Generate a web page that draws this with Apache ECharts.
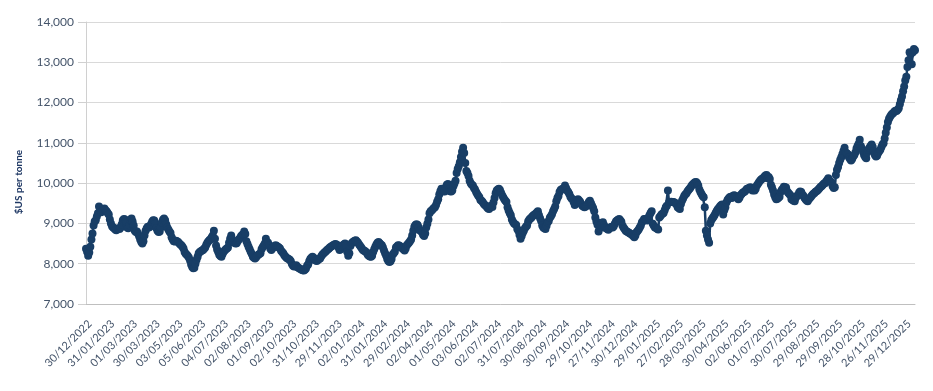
<!DOCTYPE html>
<html>
<head>
<meta charset="utf-8">
<script src="https://cdn.jsdelivr.net/npm/echarts@6/dist/echarts.min.js"></script>
<style>
html,body{margin:0;padding:0;background:#fff;}
#chart{width:933px;height:391px;}
</style>
</head>
<body>
<div id="chart"></div>
<script>
// LME trading-day closes, $US per tonne, 30/12/2022 onwards
const pricesA = [
 8370, 8300, 8200, 8280, 8420, 8600, 8750, 8950, 9050, 9080, 9170, 9250, 9420, 9320, 9280, 9300, 9340, 9370, 9330, 9300, 9260,
 9220, 9100, 9000, 8930, 8900, 8880, 8850, 8830, 8860, 8880, 8860, 8900, 8980, 9080, 9110, 9100, 9000, 8900, 8880, 8950, 9080,
 9120, 9050, 8950, 8820, 8790, 8800, 8750, 8680, 8600, 8540, 8500, 8560, 8700, 8820, 8880, 8920, 8900, 8920, 8980, 9040, 9080,
 9070, 9000, 8880, 8820, 8790, 8800, 8900, 9020, 9090, 9120, 9080, 8980, 8900, 8850, 8800, 8760, 8660, 8600, 8560, 8550, 8570,
 8560, 8540, 8510, 8480, 8460, 8420, 8380, 8290, 8250, 8220, 8190, 8150, 8080, 7980, 7920, 7890, 7900, 8000, 8100, 8170, 8260,
 8290, 8310, 8330, 8340, 8370, 8400, 8470, 8520, 8560, 8590, 8610, 8660, 8700, 8820, 8620, 8450, 8350, 8290, 8220, 8190, 8170
];
const pricesB = [
 8240, 8300, 8330, 8360, 8380, 8400, 8520, 8620, 8700, 8600, 8540, 8520, 8500, 8510, 8560, 8600, 8630, 8680, 8710, 8730, 8800,
 8740, 8560, 8490, 8420, 8360, 8300, 8240, 8170, 8150, 8130, 8160, 8200, 8220, 8240, 8260, 8360, 8410, 8450, 8500, 8620, 8540,
 8520, 8450, 8380, 8340, 8380, 8420, 8440, 8460, 8440, 8420, 8400, 8380, 8320, 8290, 8260, 8210, 8180, 8150, 8130, 8120, 8100,
 8060, 7990, 7950, 7930, 7940, 7960, 7920, 7900, 7880, 7870, 7850, 7840, 7830, 7850, 7880, 7950, 7980, 8060, 8120, 8150, 8170,
 8150, 8120, 8080, 8070, 8090, 8120, 8130, 8180, 8220, 8250, 8280, 8300, 8330, 8350, 8370, 8400, 8420, 8440, 8460, 8470, 8490,
 8480, 8460, 8400, 8340, 8360, 8420, 8460, 8480, 8500, 8460, 8300, 8200, 8260, 8440, 8500, 8530, 8550, 8570, 8580, 8550, 8520
];
const pricesC = [
 8480, 8440, 8400, 8360, 8330, 8320, 8300, 8280, 8220, 8200, 8180, 8170, 8200, 8290, 8360, 8420, 8480, 8520, 8540, 8510, 8480,
 8460, 8400, 8330, 8260, 8200, 8120, 8070, 8040, 8060, 8120, 8230, 8260, 8300, 8400, 8430, 8460, 8450, 8430, 8410, 8380, 8360,
 8330, 8380, 8460, 8490, 8520, 8560, 8600, 8700, 8820, 8920, 8960, 8980, 8960, 8900, 8830, 8810, 8780, 8720, 8690, 8750, 8900,
 8990, 9100, 9250, 9300, 9320, 9350, 9380, 9400, 9460, 9540, 9600, 9720, 9800, 9860, 9830, 9800, 9790, 9900, 9960, 9980, 9850,
 9800, 9790, 9820, 9920, 9990, 10060, 10250, 10350, 10420, 10520, 10650, 10780, 10880, 10750, 10500, 10300, 10250, 10180, 10060, 10000, 9960,
 9940, 9880, 9840, 9780, 9730, 9690, 9650, 9580, 9560, 9530, 9490, 9460, 9440, 9400, 9370, 9360, 9420, 9440, 9410, 9520, 9630
];
const pricesD = [
 9750, 9820, 9840, 9860, 9830, 9760, 9700, 9650, 9600, 9560, 9530, 9400, 9320, 9260, 9200, 9100, 9040, 9000, 8980, 8960, 8860,
 8820, 8720, 8620, 8690, 8760, 8820, 8880, 8920, 8950, 9050, 9090, 9120, 9140, 9180, 9200, 9220, 9240, 9270, 9300, 9200, 9130,
 9060, 8950, 8900, 8880, 8860, 8940, 9030, 9060, 9140, 9180, 9230, 9300, 9360, 9420, 9550, 9630, 9680, 9780, 9830, 9850, 9860,
 9870, 9940, 9880, 9820, 9780, 9730, 9660, 9620, 9600, 9530, 9460, 9540, 9580, 9600, 9570, 9540, 9480, 9440, 9420, 9400, 9420,
 9440, 9480, 9530, 9560, 9500, 9440, 9380, 9300, 9150, 9050, 8970, 8800, 8880, 8980, 9010, 9030, 8960, 8900, 8880, 8860, 8840,
 8880, 8900, 8920, 8900, 8930, 8990, 9050, 9070, 9090, 9110, 9080, 9040, 8950, 8900, 8860, 8820, 8800, 8790, 8770, 8750, 8740
];
const pricesE = [
 8710, 8690, 8660, 8700, 8780, 8810, 8850, 8900, 8950, 9030, 9060, 9110, 9110, 9090, 9070, 9150, 9200, 9260, 9300, 8990, 8940,
 8900, 8890, 8870, 8850, 9150, 9180, 9220, 9240, 9260, 9330, 9400, 9440, 9820, 9520, 9530, 9540, 9530, 9530, 9520, 9500, 9470,
 9400, 9380, 9360, 9480, 9560, 9620, 9680, 9720, 9740, 9790, 9830, 9860, 9900, 9940, 9970, 10000, 10020, 10030, 10000, 9940, 9840,
 9780, 9730, 9680, 9650, 9400, 8820, 8700, 8600, 8520, 9000, 9080, 9120, 9160, 9200, 9260, 9310, 9350, 9380, 9420, 9450, 9470,
 9220, 9330, 9400, 9520, 9580, 9620, 9650, 9660, 9630, 9680, 9700, 9690, 9660, 9640, 9600, 9640, 9700, 9730, 9760, 9780, 9790,
 9830, 9860, 9870, 9880, 9900, 9860, 9820, 9840, 9820, 9860, 9940, 9980, 10020, 10060, 10090, 10110, 10130, 10160, 10190, 10200, 10120
];
const pricesF = [
 10150, 10100, 9960, 9900, 9820, 9720, 9650, 9600, 9610, 9640, 9660, 9780, 9830, 9860, 9910, 9900, 9890, 9800, 9760, 9730, 9700,
 9600, 9580, 9560, 9550, 9640, 9680, 9700, 9760, 9790, 9780, 9720, 9690, 9640, 9600, 9570, 9550, 9600, 9630, 9660, 9700, 9730,
 9750, 9780, 9800, 9820, 9850, 9880, 9910, 9930, 9960, 9990, 10000, 10040, 10080, 10120, 10060, 10040, 10010, 9920, 9880, 9900, 10200,
 10330, 10400, 10500, 10580, 10640, 10720, 10800, 10880, 10760, 10740, 10720, 10640, 10600, 10560, 10600, 10660, 10700, 10760, 10860, 10920, 10980,
 11080, 10920, 10860, 10780, 10700, 10650, 10620, 10760, 10830, 10880, 10920, 10960, 10900, 10800, 10700, 10660, 10680, 10750, 10790, 10830, 10900,
 10960, 10990, 11110, 11250, 11380, 11520, 11600, 11650, 11690, 11720, 11740, 11780, 11800, 11790, 11820, 11860, 11960, 12060, 12150, 12280, 12400,
 12550, 12640, 12880, 13050, 13250, 13200, 12950, 13250, 13330, 13300
];
const prices = [].concat(pricesA, pricesB, pricesC, pricesD, pricesE, pricesF);

// trading calendar: weekdays from 30/12/2022 excluding UK (LME) holidays
const startDate = '2022-12-30';
const holidays = ['2023-01-02','2023-04-07','2023-04-10','2023-05-01','2023-05-08','2023-05-29','2023-08-28','2023-12-25','2023-12-26',
  '2024-01-01','2024-03-29','2024-04-01','2024-05-06','2024-05-27','2024-08-26','2024-12-25','2024-12-26',
  '2025-01-01','2025-04-18','2025-04-21','2025-05-05','2025-05-26','2025-08-25','2025-12-25','2025-12-26','2026-01-01'];
const yTicks = [7000, 8000, 9000, 10000, 11000, 12000, 13000, 14000];
const yTitle = '$US per tonne';
const labelEvery = 21;

const dates = [];
(function(){
  const d = new Date(startDate + 'T00:00:00Z');
  const hs = new Set(holidays);
  while (dates.length < prices.length) {
    const wd = d.getUTCDay();
    const iso = d.toISOString().slice(0,10);
    if (wd !== 0 && wd !== 6 && !hs.has(iso)) {
      dates.push(iso.slice(8,10) + '/' + iso.slice(5,7) + '/' + iso.slice(0,4));
    }
    d.setUTCDate(d.getUTCDate() + 1);
  }
})();

const FONT = 'Lato';
const chart = echarts.init(document.getElementById('chart'), null, {renderer:'canvas'});
chart.setOption({
  animation: false,
  backgroundColor: '#ffffff',
  grid: {left: 86, right: 18, top: 22, bottom: 87, containLabel: false},
  xAxis: {
    type: 'category',
    data: dates,
    boundaryGap: false,
    axisLine: {show: true, lineStyle: {color: '#bfbfbf', width: 1}},
    axisTick: {show: false},
    axisLabel: {
      interval: labelEvery - 1,
      rotate: 45,
      margin: 14,
      verticalAlign: 'top',
      color: '#44546a',
      fontFamily: FONT,
      fontSize: 11
    },
    splitLine: {show: false}
  },
  yAxis: {
    type: 'value',
    min: yTicks[0],
    max: yTicks[yTicks.length - 1],
    interval: yTicks[1] - yTicks[0],
    axisLine: {show: true, lineStyle: {color: '#d0d0d0', width: 1}},
    axisTick: {show: true, length: 8, lineStyle: {color: '#d0d0d0'}},
    axisLabel: {
      margin: 12,
      color: '#44546a',
      fontFamily: FONT,
      fontSize: 12,
      formatter: v => v.toLocaleString('en-US')
    },
    splitLine: {show: true, lineStyle: {color: '#d9d9d9', width: 1}}
  },
  graphic: [{
    type: 'text',
    x: 19, y: 182,
    rotation: Math.PI / 2,
    style: {
      text: yTitle,
      fill: '#1f3864',
      font: 'bold 10px Lato',
      textAlign: 'center',
      textVerticalAlign: 'middle'
    }
  }],
  series: [{
    type: 'line',
    data: prices,
    showSymbol: true,
    showAllSymbol: true,
    symbol: 'circle',
    symbolSize: 8,
    color: '#183e66',
    itemStyle: {color: '#183e66', borderWidth: 0},
    lineStyle: {color: '#183e66', width: 2.5},
    emphasis: {disabled: true}
  }]
});
</script>
</body>
</html>
